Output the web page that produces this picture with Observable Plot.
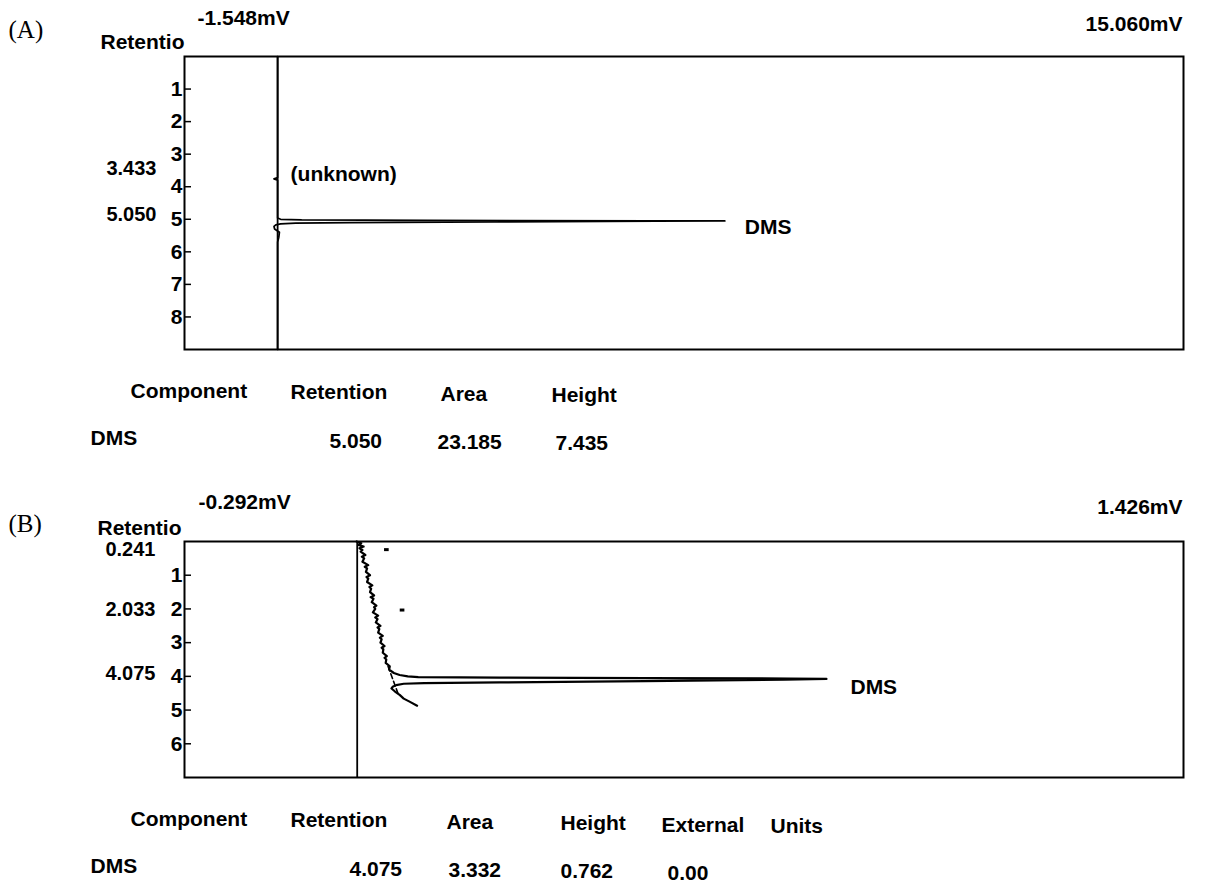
<!DOCTYPE html>
<html><head><meta charset="utf-8">
<script src="https://cdn.jsdelivr.net/npm/d3@7"></script>
<script src="https://cdn.jsdelivr.net/npm/@observablehq/plot@0.6"></script>
<style>
body{margin:0;background:#fff;}
#wrap{width:1212px;height:886px;overflow:hidden;background:#fff;}
#wrap svg{display:block;}
</style></head><body><div id="wrap"></div>
<script>
// ---------- Panel A data ----------
const panelA = "(A)";
const axisTitleA = "Retentio";
const xMinA = -1.548, xMaxA = 15.060;
const xMinLabelA = "-1.548mV", xMaxLabelA = "15.060mV";
const yMaxA = 9;
const yTicksA = [1, 2, 3, 4, 5, 6, 7, 8];
const traceA_time = [0, 3.72, 3.76, 3.80, 4.96, 5.00, 5.02, 5.035, 5.045, 5.05, 5.06, 5.08, 5.10, 5.12, 5.14, 5.17, 5.22, 5.30, 5.40, 5.55, 5.70, 9];
const traceA_mV   = [0, 0, -0.06, 0, 0, 0.05, 0.4, 2.5, 6.2, 7.435, 6.3, 3.6, 1.2, 0.3, 0.05, -0.03, -0.06, -0.05, 0.03, 0.02, 0, 0];
const peaksA_time = [3.433, 5.050];
const peaksA_mV   = [0, 7.435];
const peaksA_name = ["(unknown)", "DMS"];
const tableA_head = ["Component", "Retention", "Area", "Height"];
const tableA_row  = ["DMS", "5.050", "23.185", "7.435"];

// ---------- Panel B data ----------
const panelB = "(B)";
const axisTitleB = "Retentio";
const xMinB = -0.292, xMaxB = 1.426;
const xMinLabelB = "-0.292mV", xMaxLabelB = "1.426mV";
const yMaxB = 7;
const yTicksB = [1, 2, 3, 4, 5, 6];
const traceB_time = [0.00, 0.05, 0.10, 0.15, 0.20, 0.25, 0.30, 0.40, 0.45, 0.50, 0.60, 0.70, 0.75, 0.80, 0.90, 1.00, 1.05, 1.10, 1.20, 1.30, 1.35, 1.40, 1.50, 1.60, 1.65, 1.70, 1.80, 1.90, 1.95, 2.00, 2.10, 2.20, 2.25, 2.30, 2.40, 2.50, 2.55, 2.60, 2.70, 2.80, 2.85, 2.90, 3.00, 3.10, 3.15, 3.20, 3.30, 3.40, 3.45, 3.50, 3.60, 3.70, 3.80, 3.90, 3.96, 4.00, 4.02, 4.035, 4.05, 4.065, 4.075, 4.10, 4.14, 4.18, 4.20, 4.22, 4.26, 4.31, 4.36, 4.45, 4.55, 4.66, 4.75, 4.87];
const traceB_mV   = [0.004, 0.012, 0.007, 0.016, 0.009, 0.014, 0.011, 0.019, 0.013, 0.017, 0.014, 0.024, 0.018, 0.022, 0.020, 0.027, 0.021, 0.024, 0.022, 0.031, 0.026, 0.029, 0.027, 0.034, 0.028, 0.033, 0.030, 0.038, 0.034, 0.036, 0.032, 0.041, 0.036, 0.040, 0.037, 0.045, 0.040, 0.043, 0.041, 0.049, 0.044, 0.047, 0.045, 0.052, 0.047, 0.050, 0.049, 0.056, 0.052, 0.055, 0.054, 0.061, 0.060, 0.068, 0.078, 0.092, 0.110, 0.25, 0.50, 0.75, 0.812, 0.74, 0.50, 0.25, 0.12, 0.085, 0.072, 0.066, 0.064, 0.070, 0.078, 0.085, 0.095, 0.108];
const baselineB_time = [3.70, 4.50];
const baselineB_mV   = [0.058, 0.075];
const markersB_time = [0.241, 2.033];
const markersB_mV   = [0.052, 0.079];
const peaksB_time = [0.241, 2.033, 4.075];
const peakB_name = "DMS";
const peakB_mV = 0.812;
const tableB_head = ["Component", "Retention", "Area", "Height", "External", "Units"];
const tableB_row  = ["DMS", "4.075", "3.332", "0.762", "0.00"];

// ---------- layout (pixels) ----------
const W = 1212;
const FONT = "'Liberation Sans', Arial, sans-serif";
const frameL = 184, frameR = 1183;
const colHeadA = [130, 290, 440, 551];
const colRowA  = [90, 329, 437, 555];
const colHeadB = [130, 290, 446, 560, 661, 770];
const colRowB  = [90, 349, 448, 560, 667];
const tilt = x => (x - 90) * 0.011;
const SERIF = {fontFamily: "'Liberation Serif', 'DejaVu Serif', serif", fontWeight: "normal", fontSize: 25, letterSpacing: "4px"};

function lbl(t, frameAnchor, dx, dy, extra = {}) {
  return Plot.text([t], {text: d => d, frameAnchor, dx, dy, textAnchor: "start", lineAnchor: "middle", fill: "black", ...extra});
}
function tableMarks(head, row, colHead, colRow, dyHead, dyRow) {
  const m = [];
  head.forEach((h, i) => m.push(lbl(h, "bottom-left", colHead[i] - frameL, dyHead + tilt(colHead[i]), {fontSize: 21})));
  row.forEach((r, i) => m.push(lbl(r, "bottom-left", colRow[i] - frameL, dyRow + tilt(colRow[i]), {fontSize: 21})));
  return m;
}
function axisMarks(ticks) {
  return [
    Plot.axisY(ticks, {tickSize: 7, dx: 7, tickFormat: () => "", strokeWidth: 1.5, label: null}),
    Plot.axisY(ticks, {tickSize: 0, tickPadding: 2, label: null, fontSize: 21, fontWeight: "bold", fill: "black"})
  ];
}
function retLabel(t, dx, dy) {
  return Plot.text([t], {y: d => d, text: d => d.toFixed(3), frameAnchor: "left", dx, dy, textAnchor: "end", lineAnchor: "middle", fill: "black"});
}
const styleSvg = {fontFamily: FONT, fontSize: "20px", fontWeight: "bold", background: "white", color: "black", overflow: "visible"};

// ---------- Panel A ----------
const HA = 470, topA = 56, botA = 349;
const traceA = traceA_time.map((t, i) => ({t, mV: traceA_mV[i]}));
const plotA = Plot.plot({
  width: W, height: HA,
  marginLeft: frameL, marginRight: W - frameR, marginTop: topA, marginBottom: HA - botA,
  x: {domain: [xMinA, xMaxA], axis: null},
  y: {domain: [0, yMaxA], reverse: true},
  style: styleSvg,
  marks: [
    Plot.frame({stroke: "black", strokeWidth: 2}),
    Plot.ruleX([0], {stroke: "black", strokeWidth: 1.8}),
    Plot.line(traceA, {x: "mV", y: "t", stroke: "black", strokeWidth: 1.7}),
    ...axisMarks(yTicksA),
    retLabel(peaksA_time[0], -28, 0),
    retLabel(peaksA_time[1], -28, -6),
    Plot.text([peaksA_time[0]], {x: peaksA_mV[0], y: d => d, text: [peaksA_name[0]], dx: 13, dy: 6, textAnchor: "start", lineAnchor: "middle", fill: "black", fontSize: 21}),
    Plot.text([peaksA_time[1]], {x: peaksA_mV[1], y: d => d, text: [peaksA_name[1]], dx: 20, dy: 6, textAnchor: "start", lineAnchor: "middle", fill: "black", fontSize: 21}),
    lbl(panelA, "top-left", 8 - frameL, 29 - topA, SERIF),
    lbl(axisTitleA, "top-left", 100 - frameL, 42 - topA, {fontSize: 21}),
    lbl(xMinLabelA, "top-left", 197 - frameL, 18 - topA, {fontSize: 21}),
    lbl(xMaxLabelA, "top-right", -1, 24 - topA, {textAnchor: "end", fontSize: 21}),
    ...tableMarks(tableA_head, tableA_row, colHeadA, colRowA, 41, 89)
  ]
});

// ---------- Panel B ----------
const HB = 886 - HA, offB = HA, topB = 541 - offB, botB = 777 - offB;
const traceB = traceB_time.map((t, i) => ({t, mV: traceB_mV[i]}));
const baselineB = baselineB_time.map((t, i) => ({t, mV: baselineB_mV[i]}));
const markersB = markersB_time.map((t, i) => ({t, mV: markersB_mV[i]}));
const plotB = Plot.plot({
  width: W, height: HB,
  marginLeft: frameL, marginRight: W - frameR, marginTop: topB, marginBottom: HB - botB,
  x: {domain: [xMinB, xMaxB], axis: null},
  y: {domain: [0, yMaxB], reverse: true},
  style: styleSvg,
  marks: [
    Plot.frame({stroke: "black", strokeWidth: 2}),
    Plot.ruleX([0.005], {stroke: "black", strokeWidth: 1.8}),
    Plot.line(baselineB, {x: "mV", y: "t", stroke: "black", strokeWidth: 1.6, strokeDasharray: "5,3"}),
    Plot.line(traceB, {x: "mV", y: "t", stroke: "black", strokeWidth: 2.2}),
    Plot.ruleY(markersB, {y: "t", x1: "mV", x2: d => d.mV + 0.008, stroke: "black", strokeWidth: 3}),
    ...axisMarks(yTicksB),
    retLabel(peaksB_time[0], -29, 0),
    retLabel(peaksB_time[1], -29, 0),
    retLabel(peaksB_time[2], -29, -5),
    Plot.text([peaksB_time[2]], {x: peakB_mV, y: d => d, text: [peakB_name], dx: 24, dy: 8, textAnchor: "start", lineAnchor: "middle", fill: "black", fontSize: 21}),
    lbl(panelB, "top-left", 8 - frameL, 523 - 541, SERIF),
    lbl(axisTitleB, "top-left", 97 - frameL, 528 - 541, {fontSize: 21}),
    lbl(xMinLabelB, "top-left", 198 - frameL, 502 - 541, {fontSize: 21}),
    lbl(xMaxLabelB, "top-right", -1, 507 - 541, {textAnchor: "end", fontSize: 21}),
    ...tableMarks(tableB_head, tableB_row, colHeadB, colRowB, 41, 89)
  ]
});

document.getElementById("wrap").append(plotA, plotB);
</script>
</body></html>
